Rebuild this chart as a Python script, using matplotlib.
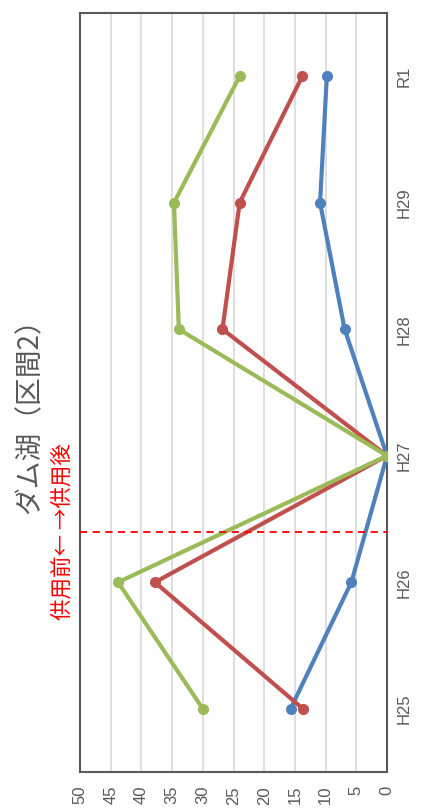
import numpy as np
import matplotlib
matplotlib.use("Agg")
from matplotlib import pyplot as plt

plt.rcParams['font.family'] = ['Noto Sans CJK JP', 'DejaVu Sans']

# data (chart is drawn rotated 90 deg, as in the reference)
years = ["H25", "H26", "H27", "H28", "H29", "R1"]
blue = [15.7, 5.8, 0, 6.9, 10.9, 9.8]
red = [13.7, 37.8, 0, 26.8, 24.0, 13.8]
green = [30.0, 43.8, 0, 33.9, 34.7, 24.0]
value_ticks = [0, 5, 10, 15, 20, 25, 30, 35, 40, 45, 50]
split_pos = 1.4  # 供用前/供用後 boundary between H26 and H27

fig = plt.figure(figsize=(4.21, 8.10), dpi=100)
ax = fig.add_axes([80 / 421, 38 / 810, 307 / 421, 759 / 810])

pos = np.arange(len(years))
for vals, col in [(blue, '#4F81BD'), (red, '#C0504D'), (green, '#9BBB59')]:
    ax.plot(vals, pos, color=col, lw=3, marker='o', ms=7, zorder=3,
            solid_capstyle='round')

ax.axhline(split_pos, color='#FF0000', ls=(0, (4, 3)), lw=1.3, zorder=4)

ax.set_xlim(50, 0)
ax.set_ylim(-0.5, len(years) - 0.5)
ax.set_xticks(value_ticks)
ax.set_xticklabels([str(v) for v in value_ticks], rotation=90,
                   fontsize=12, color='#595959', family='Liberation Sans')
ax.set_yticks(pos)
ax.yaxis.tick_right()
ax.set_yticklabels(years, rotation=90, va='center', fontsize=12,
                   color='#595959', family='Liberation Sans')
ax.tick_params(axis='x', length=0, pad=10)
ax.tick_params(axis='y', length=0, pad=7)
ax.grid(axis='x', color='#D9D9D9', lw=1.2)
ax.set_axisbelow(True)
for s in ax.spines.values():
    s.set_color('#595959')
    s.set_linewidth(1.5)

fig.text(30 / 421, 1 - 409 / 810, "ダム湖（区間2）", rotation=90,
         ha='center', va='center', fontsize=20, color='#595959')
fig.text(63 / 421, 1 - 532 / 810, "供用前← →供用後", rotation=90,
         ha='center', va='center', fontsize=15.5, color='#FF0000')

fig.savefig("out.png", dpi=100)
